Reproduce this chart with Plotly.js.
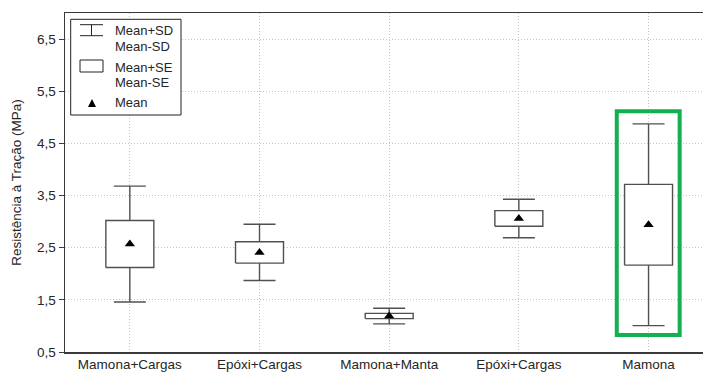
<!DOCTYPE html>
<html><head><meta charset="utf-8">
<script src="https://cdn.plot.ly/plotly-3.0.1.min.js"></script>
<style>html,body{margin:0;padding:0;overflow:hidden;background:#fff}</style>
</head><body><div id="chart" style="width:703px;height:374px"></div>
<script>
const categories = ["Mamona+Cargas", "Epóxi+Cargas", "Mamona+Manta", "Epóxi+Cargas", "Mamona"];
const means = [2.57, 2.41, 1.19, 3.06, 2.94];
const se = [0.45, 0.205, 0.05, 0.15, 0.775];
const sd = [1.11, 0.54, 0.15, 0.37, 1.935];
const yTicks = [0.5, 1.5, 2.5, 3.5, 4.5, 5.5, 6.5];
const legendLabels = ["Mean+SD", "Mean-SD", "Mean+SE", "Mean-SE", "Mean"];
const yTitle = "Resistência à Tração (MPa)";
const highlightIndex = 4;

const xs = categories.map((_, i) => i);
const FONT = "Liberation Sans, Arial, sans-serif";
const TXT = "#262626";
const LINE = "#505050";
const HALF = 0.185; // half box width (x units)

// whiskers: mean ± SD with caps (drawn first, under the boxes)
const whiskerTrace = {
  type: "scatter", mode: "markers", x: xs, y: means,
  marker: {size: 1, opacity: 0},
  error_y: {type: "data", array: sd, symmetric: true, color: LINE, thickness: 1.4, width: 16},
  showlegend: false, hoverinfo: "skip"
};
// boxes: mean ± SE, white filled rectangles
const boxTraces = xs.map((x, i) => ({
  type: "scatter", mode: "lines",
  x: [x - HALF, x + HALF, x + HALF, x - HALF, x - HALF],
  y: [means[i] - se[i], means[i] - se[i], means[i] + se[i], means[i] + se[i], means[i] - se[i]],
  fill: "toself", fillcolor: "#ffffff", line: {color: LINE, width: 1.4},
  showlegend: false, hoverinfo: "skip"
}));
const meanTrace = {
  type: "scatter", mode: "markers", x: xs, y: means,
  marker: {symbol: "triangle-up", size: 9, color: "#000"},
  showlegend: false, hoverinfo: "skip", cliponaxis: false
};

// pixel helpers for legend (paper coords)
const L = 65, R = 703, T = 13, B = 352;
const px = x => (x - L) / (R - L);
const py = y => (B - y) / (B - T);

const hi = highlightIndex;
const shapes = [
  {type: "rect", xref: "x", yref: "y",
   x0: xs[hi] - 0.245, x1: xs[hi] + 0.24,
   y0: means[hi] - sd[hi] - 0.18, y1: means[hi] + sd[hi] + 0.24,
   line: {color: "#12b04e", width: 4}, fillcolor: "rgba(0,0,0,0)", layer: "above"},
  // legend frame
  {type: "rect", xref: "paper", yref: "paper", x0: px(70.7), x1: px(181), y0: py(115), y1: py(19.3),
   line: {color: "#222", width: 1}, fillcolor: "#fff", layer: "above"},
  // I-beam icon
  {type: "line", xref: "paper", yref: "paper", x0: px(80), x1: px(103), y0: py(24.7), y1: py(24.7), line: {color: "#222", width: 1}},
  {type: "line", xref: "paper", yref: "paper", x0: px(80), x1: px(103), y0: py(35.7), y1: py(35.7), line: {color: "#222", width: 1}},
  {type: "line", xref: "paper", yref: "paper", x0: px(91.5), x1: px(91.5), y0: py(24.7), y1: py(35.7), line: {color: "#222", width: 1}},
  // box icon
  {type: "rect", xref: "paper", yref: "paper", x0: px(80), x1: px(103), y0: py(72), y1: py(60), line: {color: "#222", width: 1}},
  // triangle icon
  {type: "path", xref: "paper", yref: "paper",
   path: `M ${px(88)} ${py(107)} L ${px(96)} ${py(107)} L ${px(92)} ${py(99)} Z`,
   fillcolor: "#000", line: {color: "#000", width: 0}}
];
const legY = [31, 47, 67, 82, 103];
const annotations = legendLabels.map((t, i) => ({
  xref: "paper", yref: "paper", x: px(113), y: py(legY[i]), xanchor: "left", yanchor: "middle",
  text: t, showarrow: false, font: {family: FONT, size: 13, color: TXT}
}));

const layout = {
  width: 703, height: 374,
  margin: {l: 65, r: 0, t: 13, b: 22},
  paper_bgcolor: "#fff", plot_bgcolor: "#fff",
  separators: ",.",
  font: {family: FONT, size: 13, color: TXT},
  showlegend: false,
  xaxis: {
    range: [-0.5, 4.42], tickvals: xs, ticktext: categories,
    showgrid: true, gridcolor: "#c4c4c4", griddash: "1px,2px", gridwidth: 1,
    showline: true, linecolor: "#3a3a3a", linewidth: 1.5, mirror: true,
    ticks: "", ticklabelstandoff: -1,
    zeroline: false, tickfont: {family: FONT, size: 13.5, color: TXT}, fixedrange: true
  },
  yaxis: {
    range: [0.5, 7.0], tickvals: yTicks, tickformat: ".1f",
    showgrid: true, gridcolor: "#c4c4c4", griddash: "1px,2px", gridwidth: 1,
    showline: true, linecolor: "#3a3a3a", linewidth: 1.5, mirror: false,
    ticks: "outside", ticklen: 5, tickcolor: "#3a3a3a",
    zeroline: false, tickfont: {family: FONT, size: 13.5, color: TXT},
    title: {text: yTitle, font: {family: FONT, size: 13.5, color: TXT}, standoff: 12}, fixedrange: true
  },
  shapes: shapes, annotations: annotations
};

Plotly.newPlot("chart", [whiskerTrace, ...boxTraces, meanTrace], layout, {displayModeBar: false, staticPlot: true});
</script></body></html>
